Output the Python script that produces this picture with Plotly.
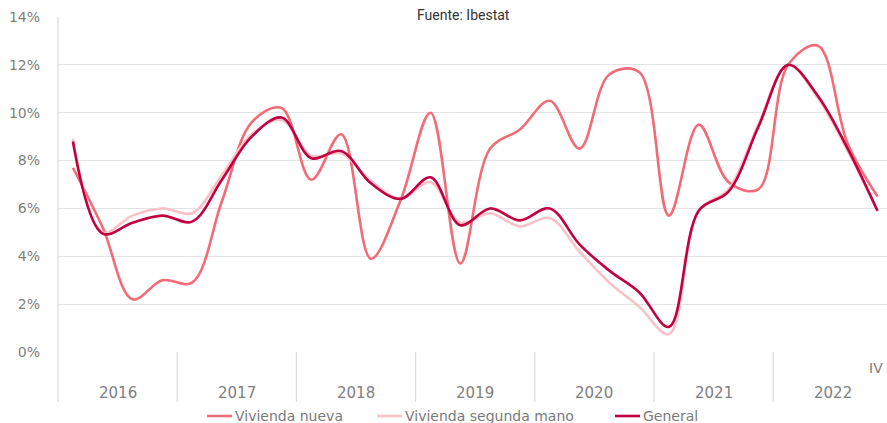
import plotly.graph_objects as go

years = ["2016", "2017", "2018", "2019", "2020", "2021", "2022"]
quarters = ["I", "II", "III", "IV"]

vivienda_nueva = [7.7, 5.2, 2.2, 3.0, 2.9, 6.3, 9.6, 10.2,
                  7.2, 9.1, 3.9, 6.35, 10.0, 3.7, 8.5, 9.3,
                  10.5, 8.5, 11.6, 11.7, 5.7, 9.5, 7.1, 6.8,
                  12.0, 12.8, 8.7, 6.5]
vivienda_segunda = [8.9, 5.0, 5.7, 6.0, 5.8, 7.4, 9.1, 9.7,
                    8.2, 8.3, 7.15, 6.4, 7.1, 5.4, 5.8, 5.25,
                    5.6, 4.2, 2.9, 1.9, 0.75, 5.9, 6.8, 9.5,
                    12.0, 10.6, 8.4, 5.9]
general = [8.8, 4.95, 5.4, 5.7, 5.45, 7.2, 9.0, 9.8,
           8.1, 8.4, 7.05, 6.4, 7.3, 5.3, 6.0, 5.5,
           6.0, 4.5, 3.4, 2.5, 1.05, 5.9, 6.7, 9.4,
           12.0, 10.7, 8.5, 5.9]

series_names = ["Vivienda nueva", "Vivienda segunda mano", "General"]
series_colors = ["#f26c77", "#f9c2c8", "#c2003f"]
series_values = [vivienda_nueva, vivienda_segunda, general]

n = len(general)
x = list(range(n))

W, H = 887, 423
L, T = 58, 17
R = 0
B = H - 352
pw = W - L - R
ph = H - T - B
QW = 29.8  # quarter width in px

fig = go.Figure()
for name, col, vals in zip(series_names, series_colors, series_values):
    fig.add_trace(go.Scatter(
        x=x, y=[v / 100 for v in vals], mode="lines", name=name,
        line=dict(color=col, width=2.6, shape="spline", smoothing=1.0),
        showlegend=False, hoverinfo="skip"))

grid_col = "#e3e3e3"
sep_col = "#dadada"
tick_col = "#808080"

fig.update_layout(
    width=W, height=H,
    margin=dict(l=L, r=R, t=T, b=B, pad=0),
    paper_bgcolor="white", plot_bgcolor="white",
    font=dict(family="DejaVu Sans", color=tick_col),
    xaxis=dict(range=[-0.5, -0.5 + pw / QW], showgrid=False, zeroline=False,
               showticklabels=False, ticks="", showline=False, fixedrange=True),
    yaxis=dict(range=[0, 0.14], dtick=0.02, tickformat=".0%",
               showgrid=True, gridcolor=grid_col, gridwidth=1,
               zeroline=False, showline=False, ticks="",
               ticklabelstandoff=17, fixedrange=True,
               tickfont=dict(family="DejaVu Sans", size=14, color=tick_col)),
)

def px_(PX):
    return (PX - L) / pw

def py(PY):
    return (T + ph - PY) / ph

bottom = py(402)
fig.add_shape(type="line", xref="paper", yref="paper", x0=0, x1=0, y0=bottom, y1=1,
              line=dict(color=sep_col, width=1.2))
for k in range(1, len(years)):
    xs = 4 * k - 0.5
    fig.add_shape(type="line", xref="x", yref="paper", x0=xs, x1=xs, y0=bottom, y1=0,
                  line=dict(color=sep_col, width=1.2))

for k, yr in enumerate(years):
    fig.add_annotation(x=4 * k + 1.5, xref="x", y=py(393), yref="paper",
                       text=yr, showarrow=False, yanchor="middle",
                       font=dict(family="DejaVu Sans", size=15, color=tick_col))

fig.add_annotation(x=px_(885), xref="paper", y=py(368), yref="paper", text=quarters[3],
                   showarrow=False, xanchor="right", yanchor="middle",
                   font=dict(family="DejaVu Sans", size=14, color=tick_col))

fig.add_annotation(x=px_(463), xref="paper", y=py(15), yref="paper",
                   text="Fuente: Ibestat", showarrow=False, yanchor="middle",
                   font=dict(family="Roboto", size=14, color="#333333"))

leg_items = [(207, 232), (377, 402), (615, 640)]
for (x0, x1), name, col in zip(leg_items, series_names, series_colors):
    fig.add_shape(type="line", xref="paper", yref="paper",
                  x0=px_(x0), x1=px_(x1), y0=py(416), y1=py(416),
                  line=dict(color=col, width=2.6))
    fig.add_annotation(x=px_(x1 + 1), xref="paper", y=py(416), yref="paper",
                       text=name, showarrow=False, xanchor="left", yanchor="middle",
                       font=dict(family="DejaVu Sans", size=14, color="#7a7a7a"))

fig.write_html(
    "out.html",
    config={"displayModeBar": False},
    post_script="document.body.style.margin='0';document.body.style.overflow='hidden';",
)
